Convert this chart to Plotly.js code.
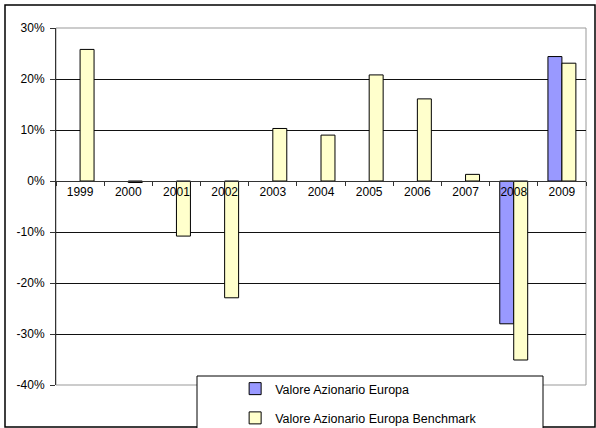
<!DOCTYPE html>
<html><head><meta charset="utf-8">
<script src="https://cdn.plot.ly/plotly-3.0.1.min.js"></script>
<style>body{margin:0;background:#fff}#c{width:596px;height:428px}</style>
</head><body><div id="c"></div>
<script>
var years = ['1999','2000','2001','2002','2003','2004','2005','2006','2007','2008','2009'];
var fondo = [null,null,null,null,null,null,null,null,null,-28.0,24.4];
var benchmark = [25.8,-0.3,-10.8,-22.9,10.3,9.0,20.8,16.1,1.3,-35.1,23.1];
var nameFondo = 'Valore Azionario Europa';
var nameBench = 'Valore Azionario Europa Benchmark';
var yTicks = [-40,-30,-20,-10,0,10,20,30];

var traces = [
  {type:'bar', x:years, y:fondo, name:nameFondo, legendgroup:'a',
   marker:{color:'#9999FF', line:{color:'#000', width:1}}},
  {type:'bar', x:years, y:benchmark, name:nameBench, legendgroup:'b',
   marker:{color:'#FFFFCC', line:{color:'#000', width:1}}}
];
var layout = {
  width:596, height:428,
  margin:{l:56, r:10, t:28, b:43, autoexpand:false},
  paper_bgcolor:'#fff', plot_bgcolor:'#fff',
  font:{family:'Liberation Sans, Arial, sans-serif', size:12, color:'#000'},
  barmode:'group', bargap:0.42, bargroupgap:0,
  showlegend:true,
  legend:{orientation:'v', x:0.338, xanchor:'left', y:(385-374)/357, yanchor:'top',
    bgcolor:'rgba(0,0,0,0)', borderwidth:0, traceorder:'grouped', tracegroupgap:10,
    font:{size:12.5}},
  xaxis:{type:'category', anchor:'free', position:4/7, showline:true, linecolor:'#333', linewidth:1,
    ticks:'outside', tickson:'boundaries', ticklen:4, tickcolor:'#333',
    showgrid:false, zeroline:false, fixedrange:true, tickfont:{size:12}},
  yaxis:{range:[-40,30], tickvals:yTicks, ticktext:yTicks.map(function(v){return v+'%';}),
    showline:true, linecolor:'#333', linewidth:1, ticks:'outside', ticklen:5, tickcolor:'#333',
    ticklabelstandoff:3,
    showgrid:true, gridcolor:'#111', gridwidth:1, zeroline:false, tickfont:{size:12}},
  shapes:[
    {type:'rect', xref:'paper', yref:'paper', x0:0, x1:1, y0:0, y1:1, line:{color:'#999', width:1}, layer:'below'},
    {type:'rect', xref:'paper', yref:'paper', x0:(5-56)/530, x1:(595-56)/530, y0:-(427-385)/357, y1:1+23/357, line:{color:'#000', width:1.5}},
    {type:'rect', xref:'paper', yref:'paper', x0:(197-56)/530, x1:(543-56)/530, y0:-(440-385)/357, y1:(385-376)/357, line:{color:'#000', width:1}, fillcolor:'#fff', layer:'above'}
  ]
};
Plotly.newPlot('c', traces, layout, {staticPlot:true});
</script></body></html>
